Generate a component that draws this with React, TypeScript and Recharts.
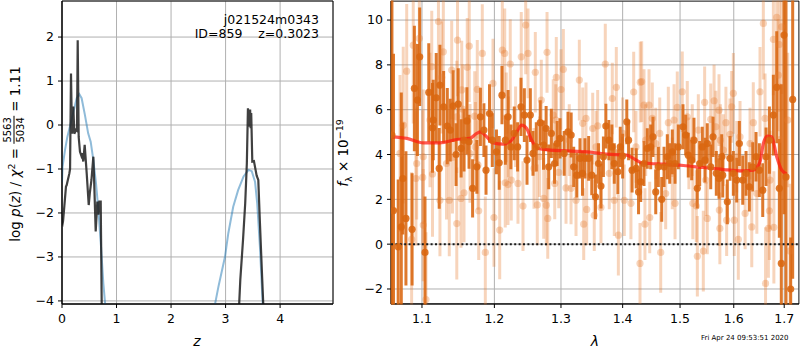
import React from 'react';
import {
  ComposedChart, Line, Scatter, XAxis, YAxis, CartesianGrid, ErrorBar,
  ReferenceLine, ReferenceArea,
} from 'recharts';

// ---------- Left panel: log p(z) ----------
const zTicks = [0, 1, 2, 3, 4];
const pzTicks = [-4, -3, -2, -1, 0, 1, 2];

const pzLowZ = [0.004, 0.013, 0.02, 0.073, 0.085, 0.135, 0.148, 0.165, 0.183, 0.208, 0.226, 0.257, 0.275, 0.288, 0.306, 0.33, 0.355, 0.37, 0.39, 0.416, 0.453, 0.49, 0.51, 0.54, 0.575, 0.587, 0.618, 0.648, 0.667, 0.685, 0.71, 0.728, 0.74];
const pzLowVal = [-2.2, -2.23, -2.18, -1.4, -1.37, -1.1, -1.0, 1.17, -0.2, 0.42, -0.2, -0.11, -0.13, 1.93, -0.27, -0.61, -0.7, -0.64, -0.83, -0.45, -1.1, -1.82, -1.55, -1.25, -0.72, -1.17, -2.42, -1.74, -2.04, -1.74, -1.74, -4.05, -5];

const pzHighZ = [3.24, 3.25, 3.27, 3.32, 3.36, 3.39, 3.41, 3.43, 3.45, 3.46, 3.47, 3.49, 3.52, 3.55, 3.57, 3.6, 3.63, 3.67, 3.69, 3.7];
const pzHighVal = [-5, -4.05, -3.52, -2.61, -1.78, -0.87, 0.38, -0.04, 0.35, -0.07, 0.27, -0.83, -0.82, -1.02, -1.15, -1.25, -2.23, -3.45, -4.05, -5];

const priorLowZ = [0.0, 0.01, 0.055, 0.098, 0.16, 0.21, 0.27, 0.318, 0.36, 0.42, 0.48, 0.526, 0.575, 0.624, 0.667, 0.716, 0.758, 0.79, 0.81];
const priorLowVal = [-1.3, -0.95, -0.57, -0.27, 0.04, 0.3, 0.61, 0.7, 0.61, 0.23, -0.19, -0.38, -0.8, -1.33, -1.93, -2.77, -3.6, -4.05, -4.5];

const priorHighZ = [2.78, 2.81, 2.87, 2.93, 2.99, 3.05, 3.14, 3.23, 3.33, 3.42, 3.48, 3.54, 3.58, 3.63, 3.68, 3.7];
const priorHighVal = [-4.5, -4.05, -3.67, -3.33, -2.99, -2.46, -1.86, -1.48, -1.17, -1.02, -1.05, -1.29, -1.78, -2.77, -4.05, -4.5];

// ---------- Right panel: spectrum ----------
const lamTicks = [1.1, 1.2, 1.3, 1.4, 1.5, 1.6, 1.7];
const fluxTicks = [-2, 0, 2, 4, 6, 8, 10];

// [lambda, flux, error]
const darkPoints: [number, number, number][] = [
  [1.061, 4.87, 9], [1.063, 1.5, 7], [1.069, -0.12, 3], [1.073, 0.77, 6], [1.075, 2.93, 2.5],
  [1.079, 1.15, 3], [1.087, 0.66, 2.5], [1.09, 6.95, 2.8], [1.094, 6.43, 2.5], [1.097, 8.36, 2.2],
  [1.104, -0.37, 2.5], [1.109, 6.77, 2.2], [1.114, 5.19, 2.0], [1.115, 5.54, 1.8], [1.119, 6.53, 2.0],
  [1.123, 3.38, 1.8], [1.124, 7.1, 1.8], [1.129, 6.13, 1.6], [1.134, 5.27, 1.7], [1.138, 5.09, 1.4],
  [1.142, 6.16, 1.6], [1.146, 4.0, 1.4], [1.149, 6.25, 1.6], [1.153, 4.27, 1.3], [1.157, 4.64, 1.4],
  [1.161, 5.5, 1.5], [1.164, 4.57, 1.2], [1.169, 2.49, 1.3], [1.175, 3.45, 1.2], [1.18, 5.68, 1.3],
  [1.185, 5.09, 1.2], [1.188, 3.3, 1.1], [1.193, 5.83, 1.3], [1.197, 4.64, 1.2], [1.203, 4.12, 1.0],
  [1.207, 3.63, 1.2], [1.211, 6.65, 1.3], [1.216, 4.64, 1.1], [1.22, 5.68, 1.2], [1.224, 4.34, 1.0],
  [1.229, 4.94, 1.2], [1.234, 4.34, 1.1], [1.239, 6.13, 1.3], [1.244, 5.76, 1.2], [1.248, 3.75, 1.1],
  [1.253, 5.76, 1.2], [1.257, 4.05, 1.0], [1.262, 4.34, 1.1], [1.268, 5.42, 1.0], [1.273, 4.42, 1.1],
  [1.277, 5.16, 1.0], [1.281, 3.45, 1.0], [1.285, 4.94, 1.1], [1.29, 3.6, 0.9], [1.294, 4.49, 1.0],
  [1.2985, 4.72, 0.9], [1.305, 4.05, 1.0], [1.311, 5.01, 0.9], [1.316, 4.87, 1.0], [1.32, 3.45, 0.9],
  [1.325, 3.08, 1.0], [1.33, 3.83, 0.9], [1.334, 3.16, 1.0], [1.338, 3.83, 0.9], [1.344, 3.83, 1.0],
  [1.349, 3.08, 0.9], [1.355, 2.11, 1.0], [1.36, 3.6, 0.9], [1.364, 2.59, 1.0], [1.368, 3.9, 0.9],
  [1.372, 5.27, 1.0], [1.377, 4.64, 0.9], [1.382, 4.34, 1.0], [1.386, 3.6, 0.9], [1.392, 3.23, 1.0],
  [1.396, 4.34, 0.9], [1.4, 3.93, 1.0], [1.407, 5.46, 1.0], [1.41, 4.64, 0.9], [1.416, 3.3, 1.0],
  [1.423, 3.38, 0.9], [1.427, 2.33, 1.0], [1.4307, 2.78, 0.9], [1.4364, 3.6, 1.0], [1.4421, 4.27, 0.9],
  [1.448, 4.34, 1.0], [1.452, 4.79, 0.9], [1.4568, 2.33, 1.0], [1.4614, 3.45, 0.9], [1.4673, 2.0, 1.0],
  [1.4714, 3.45, 0.9], [1.4772, 3.9, 1.0], [1.4815, 3.6, 0.9], [1.4861, 4.12, 1.0], [1.491, 3.6, 0.9],
  [1.4969, 4.34, 1.0], [1.5053, 5.24, 1.0], [1.5102, 4.87, 0.9], [1.5149, 3.97, 1.0], [1.5211, 3.75, 0.9],
  [1.5253, 4.64, 1.0], [1.5314, 2.49, 0.9], [1.5358, 3.6, 1.0], [1.5406, 4.34, 0.9], [1.5456, 3.75, 1.0],
  [1.5499, 4.49, 0.9], [1.5563, 3.45, 1.0], [1.5606, 4.79, 0.9], [1.5668, 3.16, 1.0], [1.5719, 2.93, 0.9],
  [1.577, 3.9, 1.0], [1.5789, 3.08, 1.0], [1.5877, 1.89, 1.0], [1.5928, 3.83, 1.0], [1.5992, 3.16, 1.0],
  [1.6057, 2.86, 1.0], [1.6108, 4.49, 1.0], [1.6174, 2.86, 1.1], [1.6238, 3.16, 1.0], [1.6302, 2.56, 1.1],
  [1.6369, 3.45, 1.1], [1.6434, 3.9, 1.1], [1.65, 3.3, 1.2], [1.6567, 2.41, 1.2], [1.6633, 3.9, 1.3],
  [1.67, 4.64, 1.5], [1.678, 5.76, 1.8], [1.6848, 7.0, 2.5], [1.6901, 2.49, 2.2], [1.6941, -0.86, 8],
  [1.6996, 9.33, 8], [1.7037, 3.0, 10], [1.7133, -2.0, 2.3], [1.7174, 6.46, 8],
];

const lightPoints: [number, number, number][] = [
  [1.0713, 4.05, 3.5], [1.0755, 5.31, 3.5], [1.08, 7.72, 3.0], [1.0864, 0.21, 3.0], [1.0885, 8.88, 3.5],
  [1.092, 2.93, 3.0], [1.093, 3.6, 2.5], [1.0965, 9.18, 3.0], [1.1017, 0.85, 2.5], [1.101, 2.98, 3.0],
  [1.1017, 3.9, 3.0], [1.1053, -2.47, 3.0], [1.1106, 5.54, 3.0], [1.113, 7.92, 2.5], [1.114, 3.13, 2.8],
  [1.122, 9.93, 3.0], [1.124, 1.96, 2.5], [1.1264, 7.44, 2.5], [1.1286, 8.58, 2.5], [1.1329, 3.6, 2.5],
  [1.1367, 1.96, 2.5], [1.14, 7.77, 2.2], [1.141, 3.87, 2.5], [1.147, 0.92, 2.5], [1.147, 5.68, 2.5],
  [1.148, 9.1, 2.5], [1.1528, 2.04, 2.2], [1.1538, 6.88, 2.2], [1.155, 6.03, 2.0], [1.157, 2.29, 2.2],
  [1.1615, 7.89, 2.2], [1.1643, 8.84, 2.5], [1.1653, 4.05, 2.2], [1.172, 5.71, 2.0], [1.173, 4.34, 2.0],
  [1.1756, 6.91, 2.2], [1.1766, 3.53, 2.0], [1.1776, 1.49, 2.2], [1.1827, 8.51, 2.2], [1.187, -0.37, 2.5],
  [1.198, 7.17, 2.0], [1.1994, 1.19, 2.2], [1.2077, 0.63, 2.2], [1.2115, 8.66, 2.2], [1.215, 8.51, 2.0],
  [1.2158, 2.74, 2.0], [1.2173, 5.66, 2.0], [1.2198, 2.66, 1.8], [1.2205, 4.79, 1.8], [1.2231, 8.04, 2.0],
  [1.2246, 2.86, 1.8], [1.231, 5.24, 1.8], [1.2345, 2.71, 1.8], [1.2394, 8.36, 2.0], [1.242, 1.7, 2.0],
  [1.246, 9.78, 2.2], [1.2495, 8.51, 2.0], [1.2585, 3.38, 1.8], [1.2605, 7.67, 1.8], [1.2635, 1.75, 1.8],
  [1.267, 3.9, 1.8], [1.2696, 6.43, 1.8], [1.2733, 2.04, 1.8], [1.2773, 1.74, 1.8], [1.2784, 8.56, 1.8],
  [1.2795, 1.15, 1.8], [1.288, 5.76, 1.6], [1.2903, 2.71, 1.6], [1.292, 5.54, 1.6], [1.2927, 7.44, 1.8],
  [1.2965, 3.2, 1.6], [1.3001, 6.9, 1.8], [1.3037, 7.8, 1.8], [1.3079, 2.51, 1.6], [1.313, 4.64, 1.6],
  [1.3158, 2.49, 1.6], [1.3237, 1.96, 1.6], [1.329, 7.32, 1.8], [1.3344, 5.39, 1.6], [1.336, 0.89, 1.6],
  [1.3397, 5.61, 1.6], [1.3408, 1.55, 1.6], [1.3505, 5.16, 1.6], [1.353, 1.29, 1.6], [1.356, 4.34, 1.6],
  [1.3586, 5.28, 1.6], [1.364, 1.64, 1.6], [1.3711, 8.04, 1.8], [1.3777, 3.16, 1.6], [1.3827, 6.5, 1.6],
  [1.386, 1.96, 1.6], [1.3894, 7.0, 1.8], [1.3928, 0.4, 1.8], [1.4, 4.94, 1.6], [1.4028, 1.96, 1.6],
  [1.414, 1.82, 1.6], [1.4187, 6.79, 1.8], [1.4226, 4.34, 1.6], [1.4295, -0.86, 1.8], [1.43, 7.23, 1.8],
  [1.4324, 7.25, 1.8], [1.4364, 6.2, 1.6], [1.438, 0.89, 1.6], [1.4393, 4.64, 1.6], [1.4451, 6.2, 1.6],
  [1.4463, 1.19, 1.6], [1.4508, 5.61, 1.6], [1.4568, 4.49, 1.6], [1.4638, 4.94, 1.6], [1.4655, -0.37, 1.8],
  [1.4743, 2.26, 1.6], [1.479, 5.42, 1.6], [1.486, 3.16, 1.6], [1.4892, 5.54, 1.6], [1.491, 1.82, 1.6],
  [1.495, 6.1, 1.6], [1.504, 6.8, 1.8], [1.5131, 5.68, 1.6], [1.516, 4.05, 1.6], [1.5222, 4.64, 1.6],
  [1.5232, 1.82, 1.6], [1.5296, 1.7, 1.6], [1.5315, -0.54, 1.8], [1.5333, 5.09, 1.6], [1.5425, -0.31, 1.8],
  [1.545, 6.33, 1.6], [1.547, 2.86, 1.6], [1.5499, 1.15, 1.6], [1.5563, 5.57, 1.6], [1.5626, 6.4, 1.6],
  [1.566, 5.24, 1.6], [1.5719, 5.98, 1.6], [1.5725, 1.52, 1.6], [1.5735, 0.7, 1.6], [1.5745, 4.64, 1.6],
  [1.5801, 4.2, 1.6], [1.585, 5.42, 1.6], [1.5864, 1.07, 1.6], [1.5928, 4.9, 1.6], [1.596, 6.13, 1.6],
  [1.5992, 6.73, 1.8], [1.601, 1.07, 1.6], [1.6057, 3.9, 1.6], [1.6088, 0.21, 1.8], [1.6121, 4.79, 1.6],
  [1.622, 1.37, 1.6], [1.6316, 4.49, 1.6], [1.635, 0.77, 1.8], [1.638, 5.42, 1.8], [1.645, 2.26, 1.8],
  [1.6513, 6.8, 2.0], [1.6579, 9.85, 2.5], [1.6613, 5.61, 2.0], [1.6623, -1.75, 2.5], [1.668, 0.7, 2.2],
  [1.67, 1.49, 2.2], [1.6713, 2.86, 2.2], [1.678, 9.14, 2.5], [1.679, 0.75, 2.5], [1.6848, 10.12, 3.0],
  [1.688, 7.54, 2.5], [1.6901, 8.91, 3.0], [1.6915, 4.67, 2.5], [1.695, 9.7, 3.0], [1.7072, 5.54, 3.0],
  [1.7119, -0.3, 3.0],
];

const modelLam = [1.061, 1.0801, 1.1017, 1.1241, 1.147, 1.1653, 1.1747, 1.1804, 1.1865, 1.1985, 1.2129, 1.2252, 1.2326, 1.24, 1.2475, 1.255, 1.265, 1.283, 1.3037, 1.3461, 1.3734, 1.4068, 1.4152, 1.4324, 1.4468, 1.4701, 1.5059, 1.5425, 1.58, 1.6185, 1.638, 1.6513, 1.6579, 1.666, 1.6747, 1.6848, 1.695, 1.7052];
const modelFlux = [4.79, 4.72, 4.52, 4.52, 4.67, 4.72, 4.94, 5.01, 4.87, 4.52, 4.46, 4.64, 5.01, 5.31, 5.16, 4.64, 4.27, 4.2, 4.17, 4.11, 4.02, 3.97, 3.87, 3.63, 3.6, 3.57, 3.51, 3.42, 3.33, 3.27, 3.3, 3.67, 4.49, 4.82, 4.79, 3.9, 3.3, 3.13];

// ---------- build series ----------
const zip = (xs: number[], ys: number[]) => xs.map((x, i) => ({ x, y: ys[i] }));
const pzLow = zip(pzLowZ, pzLowVal);
const pzHigh = zip(pzHighZ, pzHighVal);
const priorLow = zip(priorLowZ, priorLowVal);
const priorHigh = zip(priorHighZ, priorHighVal);
const darkData = darkPoints.map(([x, y, err]) => ({ x, y, err }));
const lightData = lightPoints.map(([x, y, err]) => ({ x, y, err }));
const modelData = zip(modelLam, modelFlux);

const FONT = '"DejaVu Sans", Verdana, sans-serif';
const tickStyle = { fontSize: 12.5, fill: '#000', fontFamily: FONT };
const fmtMinus = (v: number) => String(v).replace('-', '\u2212');

const Z_DOMAIN: [number, number] = [0, 4.97];
const PZ_DOMAIN: [number, number] = [-4.07, 2.82];
const LAM_DOMAIN: [number, number] = [1.0598, 1.7305];
const FLUX_DOMAIN: [number, number] = [-2.67, 10.85];

const DARK = 'rgba(217,103,16,0.88)';
const LIGHT = 'rgba(230,125,50,0.33)';

const DarkDot = (p: any) =>
  p.cx == null ? <g /> : <circle cx={p.cx} cy={p.cy} r={3.6} fill={DARK} />;
const LightDot = (p: any) =>
  p.cx == null ? <g /> : <circle cx={p.cx} cy={p.cy} r={3.6} fill={LIGHT} />;

const abs = (s: React.CSSProperties): React.CSSProperties => ({ position: 'absolute', fontFamily: FONT, color: '#000', whiteSpace: 'nowrap', ...s });

// right panel geometry (local to its 455x350 chart)
const R_W = 455;
const R_H = 350;
const R_LEFT = 46;
const R_RIGHT = 1;
const R_TOP = 1;
const R_BOTTOM = 46;

export default function App() {
  return (
    <div style={{ position: 'absolute', left: 0, top: 0, width: 800, height: 350, background: '#fff', overflow: 'hidden' }}>
      <div style={{ position: 'absolute', left: 0, top: 0 }}>
        <ComposedChart width={345} height={350} margin={{ top: 1, right: 12, bottom: 16, left: 22 }}>
          <CartesianGrid stroke="#b0b0b0" strokeWidth={1} />
          <XAxis type="number" dataKey="x" domain={Z_DOMAIN} ticks={zTicks} allowDataOverflow
            tick={tickStyle} tickSize={4} tickMargin={6} stroke="#000" height={30} tickFormatter={fmtMinus} />
          <YAxis type="number" dataKey="y" domain={PZ_DOMAIN} ticks={pzTicks} allowDataOverflow
            tick={tickStyle} tickSize={4} tickMargin={4} stroke="#000" width={40} tickFormatter={fmtMinus} />
          <Line data={priorLow} dataKey="y" stroke="rgba(31,119,180,0.5)" strokeWidth={2} dot={false} isAnimationActive={false} />
          <Line data={priorHigh} dataKey="y" stroke="rgba(31,119,180,0.5)" strokeWidth={2} dot={false} isAnimationActive={false} />
          <Line data={pzLow} dataKey="y" stroke="rgba(30,30,30,0.85)" strokeWidth={2.2} dot={false} isAnimationActive={false} />
          <Line data={pzHigh} dataKey="y" stroke="rgba(30,30,30,0.85)" strokeWidth={2.2} dot={false} isAnimationActive={false} />
          <ReferenceArea x1={Z_DOMAIN[0]} x2={Z_DOMAIN[1]} y1={PZ_DOMAIN[0]} y2={PZ_DOMAIN[1]} fill="none" fillOpacity={0} stroke="#000" strokeWidth={1} />
        </ComposedChart>
      </div>

      {/* right panel: base with grid and axes */}
      <div style={{ position: 'absolute', left: 345, top: 0 }}>
        <ComposedChart width={R_W} height={R_H} margin={{ top: R_TOP, right: R_RIGHT, bottom: 16, left: 10 }}>
          <CartesianGrid stroke="#b0b0b0" strokeWidth={1} />
          <XAxis type="number" dataKey="x" scale="log" domain={LAM_DOMAIN} ticks={lamTicks} allowDataOverflow
            tick={tickStyle} tickSize={4} tickMargin={6} stroke="#000" height={30} />
          <YAxis type="number" dataKey="y" domain={FLUX_DOMAIN} ticks={fluxTicks} allowDataOverflow
            tick={tickStyle} tickSize={4} tickMargin={4} stroke="#000" width={36} tickFormatter={fmtMinus} />
          <Line data={modelData} dataKey="y" stroke="none" dot={false} isAnimationActive={false} />
        </ComposedChart>
      </div>

      {/* right panel: data layer, clipped to the plot area */}
      <div style={{ position: 'absolute', left: 345, top: 0, clipPath: `inset(${R_TOP - 0.5}px ${R_RIGHT - 0.5}px ${R_BOTTOM - 0.5}px ${R_LEFT - 0.5}px)` }}>
        <ComposedChart width={R_W} height={R_H} margin={{ top: R_TOP, right: R_RIGHT, bottom: R_BOTTOM, left: R_LEFT }}>
          <XAxis type="number" dataKey="x" scale="log" domain={LAM_DOMAIN} allowDataOverflow hide />
          <YAxis type="number" dataKey="y" domain={FLUX_DOMAIN} allowDataOverflow hide />
          <Scatter data={lightData} shape={LightDot} isAnimationActive={false}>
            <ErrorBar dataKey="err" direction="y" width={0} stroke={LIGHT} strokeWidth={3} />
          </Scatter>
          <Scatter data={darkData} shape={DarkDot} isAnimationActive={false}>
            <ErrorBar dataKey="err" direction="y" width={0} stroke={DARK} strokeWidth={3} />
          </Scatter>
          <Line data={modelData} dataKey="y" type="monotone" stroke="rgba(255,25,15,0.72)" strokeWidth={3.2} dot={false} isAnimationActive={false} />
          <ReferenceLine y={0} stroke="#1a1a1a" strokeWidth={2} strokeDasharray="2 2.4" />
          <ReferenceArea x1={LAM_DOMAIN[0]} x2={LAM_DOMAIN[1]} y1={FLUX_DOMAIN[0]} y2={FLUX_DOMAIN[1]} fill="none" fillOpacity={0} stroke="#000" strokeWidth={1} />
        </ComposedChart>
      </div>

      {/* left panel annotations */}
      <div style={abs({ right: 481, top: 13, fontSize: 12.5, lineHeight: '14px' })}>j021524m0343</div>
      <div style={abs({ right: 481, top: 27, fontSize: 12.5, lineHeight: '14px', whiteSpace: 'pre' })}>{'ID=859    z=0.3023'}</div>

      {/* axis labels */}
      <div style={abs({ left: 197, top: 341, fontSize: 14, transform: 'translate(-50%,-50%)', fontStyle: 'italic' })}>z</div>
      <div style={abs({ left: 595, top: 341, fontSize: 14, transform: 'translate(-50%,-50%)', fontStyle: 'italic' })}>λ</div>
      <div style={abs({ left: 701, top: 334, fontSize: 7, lineHeight: '9px' })}>Fri Apr 24 09:53:51 2020</div>

      <div style={abs({ left: 14, top: 154, fontSize: 13.5, transform: 'translate(-50%,-50%) rotate(-90deg)', display: 'flex', alignItems: 'center' })}>
        <span>log&nbsp;<i>p</i>(<i>z</i>)&nbsp;/&nbsp;<i>χ</i><sup style={{ fontSize: 9.5 }}>2</sup>&nbsp;=&nbsp;</span>
        <span style={{ display: 'inline-flex', flexDirection: 'column', alignItems: 'center', fontSize: 10, lineHeight: '10px' }}>
          <span style={{ borderBottom: '1px solid #000', padding: '0 1px 1px' }}>5563</span>
          <span style={{ paddingTop: 1 }}>5034</span>
        </span>
        <span>&nbsp;=&nbsp;1.11</span>
      </div>

      <div style={abs({ left: 344, top: 153, fontSize: 13.5, transform: 'translate(-50%,-50%) rotate(-90deg)' })}>
        <i>f</i><sub style={{ fontSize: 9.5 }}>λ</sub>&nbsp;×&nbsp;10<sup style={{ fontSize: 9.5 }}>−19</sup>
      </div>
    </div>
  );
}
